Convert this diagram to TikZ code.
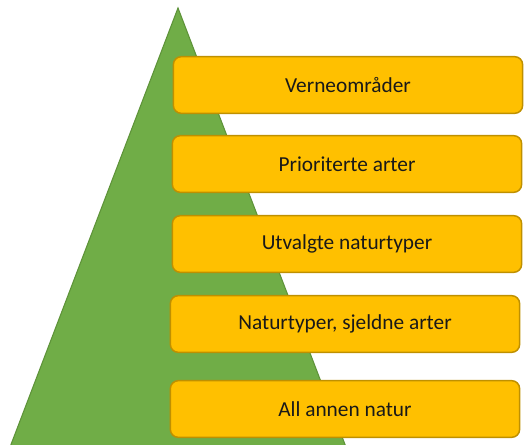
\documentclass[tikz,border=0pt]{standalone}
\usepackage{fontspec}
\setmainfont{Carlito}
\definecolor{pyrGreen}{HTML}{70AD47}
\definecolor{pyrGreenLine}{HTML}{5E9339}
\definecolor{boxOrange}{HTML}{FFC000}
\definecolor{boxOrangeLine}{HTML}{BF9000}
\tikzstyle{pyramid}=[fill=pyrGreen, draw=pyrGreenLine, line width=0.8pt]
\tikzstyle{level}=[rectangle, rounded corners=6pt, fill=boxOrange, draw=boxOrangeLine,
	line width=1.1pt, minimum width=262pt, minimum height=42.5pt, inner sep=0pt,
	text=black!90, font=\fontsize{16}{19}\selectfont]

\begin{document}
\begin{tikzpicture}[x=0.75pt, y=-0.75pt]
			\useasboundingbox (0,0) rectangle (524,445);

			% Green pyramid behind the levels
			\begin{scope}
				\clip (0,0) rectangle (524,445);
				\filldraw[pyramid] (178, 8) -- (7, 455) -- (349, 455) -- cycle;
			\end{scope}

			% Levels, from top to bottom
			\node[level] (verne)  at (348,  85) {Verneområder};
			\node[level] (prior)  at (347, 164) {Prioriterte arter};
			\node[level] (utvalg) at (347, 244) {Utvalgte naturtyper};
			\node[level] (sjeld)  at (345, 324) {Naturtyper, sjeldne arter};
			\node[level] (annen)  at (345, 409) {All annen natur};
		\end{tikzpicture}
\end{document}
